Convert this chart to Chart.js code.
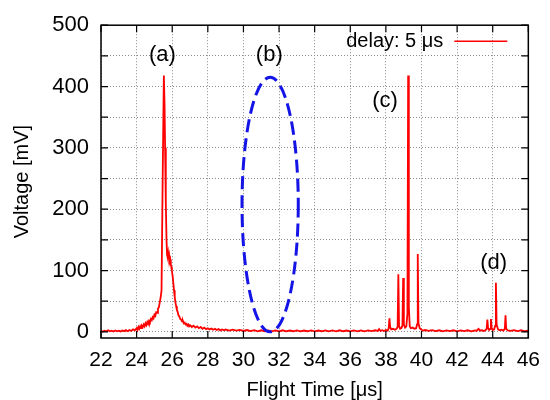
<!DOCTYPE html>
<html>
<head>
<meta charset="utf-8">
<script src="https://cdn.jsdelivr.net/npm/chart.js@4"></script>
<style>
  html, body { margin: 0; padding: 0; background: #ffffff; }
  canvas { display: block; }
</style>
</head>
<body>
<canvas id="c" width="550" height="400"></canvas>
<script>
// ---------- data ----------
const seriesLabel = 'delay: 5 \u03bcs';

const flightTime = [
  22.0, 22.1, 22.2, 22.3, 22.4, 22.5, 22.6, 22.7, 22.8, 22.9,
  23.0, 23.1, 23.2, 23.3, 23.4, 23.5, 23.6, 23.7, 23.8, 23.9,
  24.0, 24.05, 24.1, 24.15, 24.2, 24.25, 24.3, 24.35, 24.4, 24.45,
  24.5, 24.55, 24.6, 24.65, 24.7, 24.75, 24.8, 24.85, 24.9, 24.95,
  25.0, 25.05, 25.1, 25.15, 25.2, 25.25, 25.3, 25.35, 25.4,
  25.46, 25.53, 25.57, 25.6, 25.64, 25.68,
  25.71, 25.74, 25.77, 25.8, 25.83, 25.86, 25.89, 25.92, 25.95, 25.98,
  26.02, 26.06, 26.1, 26.14, 26.18, 26.22, 26.26, 26.3, 26.35, 26.4,
  26.45, 26.5, 26.55, 26.6, 26.65, 26.7, 26.75, 26.8, 26.85, 26.9,
  26.95, 27.0, 27.1, 27.2, 27.3, 27.4, 27.5, 27.6, 27.7, 27.8,
  27.9, 28.0, 28.1, 28.2, 28.3, 28.4, 28.5, 28.6, 28.7, 28.8,
  28.9, 29.0, 29.2, 29.4, 29.6, 29.8, 30.0, 30.2, 30.4, 30.6,
  30.8, 31.0, 31.2, 31.4, 31.6, 31.8, 32.0, 32.2, 32.4, 32.6,
  32.8, 33.0, 33.2, 33.4, 33.6, 33.8, 34.0, 34.2, 34.4, 34.6,
  34.8, 35.0, 35.2, 35.4, 35.6, 35.8, 36.0, 36.2, 36.4, 36.6,
  36.8, 37.0, 37.2, 37.4, 37.55, 37.62, 37.7, 37.8, 37.9, 38.0,
  38.1, 38.16, 38.2, 38.24, 38.3, 38.4, 38.5, 38.6, 38.66, 38.7,
  38.74, 38.8, 38.87, 38.93, 38.97, 39.01, 39.08, 39.15, 39.21, 39.25,
  39.29, 39.34, 39.4, 39.5, 39.6, 39.7, 39.75, 39.79, 39.83, 39.9,
  40.0, 40.1, 40.2, 40.4, 40.6, 40.8, 41.0, 41.2, 41.4, 41.6,
  41.8, 42.0, 42.2, 42.4, 42.6, 42.8, 43.0, 43.1, 43.2, 43.3,
  43.4, 43.5, 43.6, 43.66, 43.7, 43.74, 43.8, 43.86, 43.9, 43.94,
  44.0, 44.08, 44.14, 44.18, 44.22, 44.3, 44.4, 44.5, 44.6, 44.68,
  44.72, 44.76, 44.85, 45.0, 45.2, 45.4, 45.6, 45.8, 46.0
];

const voltage = [
  1.5, 0.5, 2, 1, 2.5, 0.8, 1.8, 0.6, 2.2, 1,
  2, 0.7, 2.4, 1.2, 2.8, 1, 3, 1.5, 4, 2.5,
  6, 3, 8, 5, 9, 6, 10, 8, 12, 9,
  14, 11, 16, 13, 18, 16, 21, 19, 24, 22,
  28, 26, 32, 31, 38, 40, 48, 56, 68,
  240, 418, 370, 300, 210, 150,
  126, 122, 128, 119, 124, 115, 118, 110, 106, 100,
  92, 80, 68, 57, 48, 42, 36, 33, 27, 25,
  21, 20, 17, 18, 14, 15, 12, 13, 10, 12,
  9, 11, 8, 10, 7, 9, 6, 8, 5, 7,
  4.5, 6, 4, 5.5, 3.5, 5, 3, 4.5, 2.5, 4,
  2.5, 3.8, 2, 3.5, 2, 3.2, 1.5, 3, 1.2, 2.8,
  1, 2.6, 1, 2.5, 0.8, 2.4, 1, 2.6, 0.8, 2.2,
  1, 2.5, 0.8, 2.2, 1, 2.4, 0.8, 2.2, 1, 2.5,
  0.9, 2.3, 1, 2.6, 1, 2.2, 0.8, 2.4, 1, 2.5,
  1, 2.4, 1.2, 2.6, 1.5, 4.5, 1.5, 2.8, 1.5, 3,
  2, 6, 22, 8, 4, 5, 3.5, 5, 8, 94,
  10, 5, 6, 10, 88, 12, 7, 9, 30, 418,
  40, 9, 6, 7, 5, 6, 12, 127, 14, 6,
  3.5, 2, 3, 1.5, 2.8, 1.2, 2.6, 1, 2.5, 1.2,
  2.6, 1, 2.4, 1.2, 2.6, 1, 2.5, 1.5, 5, 2,
  2.8, 1.5, 3, 5, 20, 6, 3, 5, 21, 6,
  3, 4, 10, 80, 12, 4, 2.5, 3.5, 2, 5,
  27, 5, 2.5, 1.5, 2.8, 1.2, 2.6, 1, 2
];

const xTicks = [22, 24, 26, 28, 30, 32, 34, 36, 38, 40, 42, 44, 46];
const yTicks = [0, 50, 100, 150, 200, 250, 300, 350, 400, 450, 500];
const yLabelStep = 100;

// annotation labels (data coordinates)
const markLabels = ['(a)', '(b)', '(c)', '(d)'];
const markX = [25.45, 31.45, 37.95, 44.05];
const markY = [451, 451, 376, 112];

// dashed ellipse around region (b), data coordinates
const ellipseCenter = [31.5, 207.5];
const ellipseRadius = [1.58, 207.5];

// ---------- drawing ----------
const FONT = '"Liberation Sans", Arial, Helvetica, sans-serif';

const overlay = {
  id: 'overlay',
  afterDatasetsDraw(chart) {
    const ctx = chart.ctx;
    const xs = chart.scales.x, ys = chart.scales.y;
    const a = chart.chartArea;

    // ellipse
    ctx.save();
    ctx.beginPath();
    const cx = xs.getPixelForValue(ellipseCenter[0]);
    const cy = ys.getPixelForValue(ellipseCenter[1]);
    const rx = Math.abs(xs.getPixelForValue(ellipseCenter[0] + ellipseRadius[0]) - cx);
    const ry = Math.abs(ys.getPixelForValue(ellipseCenter[1] + ellipseRadius[1]) - cy);
    ctx.ellipse(cx, cy, rx, ry, 0, 0, Math.PI * 2);
    ctx.setLineDash([13, 6]);
    ctx.lineWidth = 3;
    ctx.strokeStyle = '#1414e6';
    ctx.stroke();
    ctx.restore();

    // frame
    ctx.save();
    ctx.strokeStyle = '#000';
    ctx.lineWidth = 1.5;
    ctx.strokeRect(a.left, a.top, a.right - a.left, a.bottom - a.top);
    // inward ticks on all four sides
    ctx.lineWidth = 1.2;
    ctx.beginPath();
    const tl = 7;
    xs.ticks.forEach(t => {
      const px = xs.getPixelForValue(t.value);
      ctx.moveTo(px, a.bottom); ctx.lineTo(px, a.bottom - tl);
      ctx.moveTo(px, a.top); ctx.lineTo(px, a.top + tl);
    });
    ys.ticks.forEach(t => {
      const py = ys.getPixelForValue(t.value);
      ctx.moveTo(a.left, py); ctx.lineTo(a.left + tl, py);
      ctx.moveTo(a.right, py); ctx.lineTo(a.right - tl, py);
    });
    ctx.stroke();
    ctx.restore();

    // labels (a)..(d)
    ctx.save();
    ctx.fillStyle = '#000';
    ctx.font = '22px ' + FONT;
    ctx.textAlign = 'center';
    ctx.textBaseline = 'middle';
    markLabels.forEach((s, i) => {
      ctx.fillText(s, xs.getPixelForValue(markX[i]), ys.getPixelForValue(markY[i]));
    });
    ctx.restore();

    // legend (text then line sample, inside top-right)
    ctx.save();
    const ds = chart.data.datasets[0];
    ctx.font = '20px ' + FONT;
    ctx.fillStyle = '#000';
    ctx.textAlign = 'right';
    ctx.textBaseline = 'middle';
    const ly = a.top + 16;
    ctx.fillText(ds.label, a.right - 85, ly);
    ctx.beginPath();
    ctx.moveTo(a.right - 74, ly);
    ctx.lineTo(a.right - 21, ly);
    ctx.strokeStyle = ds.borderColor;
    ctx.lineWidth = 1.5;
    ctx.stroke();
    ctx.restore();
  }
};

const points = flightTime.map((t, i) => ({ x: t, y: voltage[i] }));

new Chart(document.getElementById('c'), {
  type: 'scatter',
  data: {
    datasets: [{
      label: seriesLabel,
      data: points,
      showLine: true,
      borderColor: '#ff0000',
      backgroundColor: '#ff0000',
      borderWidth: 1.8,
      pointRadius: 0,
      tension: 0
    }]
  },
  options: {
    responsive: false,
    animation: false,
    devicePixelRatio: 1,
    layout: { padding: { left: 0, right: 18, top: 19, bottom: 0 } },
    plugins: { legend: { display: false }, tooltip: { enabled: false } },
    scales: {
      x: {
        type: 'linear',
        min: 22, max: 46,
        afterBuildTicks: (axis) => { axis.ticks = xTicks.map(v => ({ value: v })); },
        afterFit: (axis) => { axis.height = 62; },
        ticks: {
          color: '#000',
          font: { family: FONT, size: 21 },
          padding: 10,
          maxRotation: 0,
          autoSkip: false,
          callback: (v) => String(v)
        },
        grid: { color: '#8c8c8c', lineWidth: 1, drawTicks: false },
        border: { display: false, dash: [1, 2] },
        title: {
          display: true,
          text: 'Flight Time [\u03bcs]',
          color: '#000',
          font: { family: FONT, size: 20, lineHeight: 1 },
          padding: { top: 0, bottom: 0 }
        }
      },
      y: {
        type: 'linear',
        min: -10, max: 500,
        afterBuildTicks: (axis) => { axis.ticks = yTicks.map(v => ({ value: v })); },
        afterFit: (axis) => { axis.width = 101; },
        ticks: {
          color: '#000',
          font: { family: FONT, size: 22 },
          padding: 12,
          autoSkip: false,
          callback: (v) => (v % yLabelStep === 0 ? String(v) : '')
        },
        grid: { color: '#8c8c8c', lineWidth: 1, drawTicks: false },
        border: { display: false, dash: [1, 2] },
        title: {
          display: true,
          text: 'Voltage [mV]',
          color: '#000',
          font: { family: FONT, size: 20, lineHeight: 1.2 },
          padding: { top: 10, bottom: 0 }
        }
      }
    }
  },
  plugins: [overlay]
});
</script>
</body>
</html>
